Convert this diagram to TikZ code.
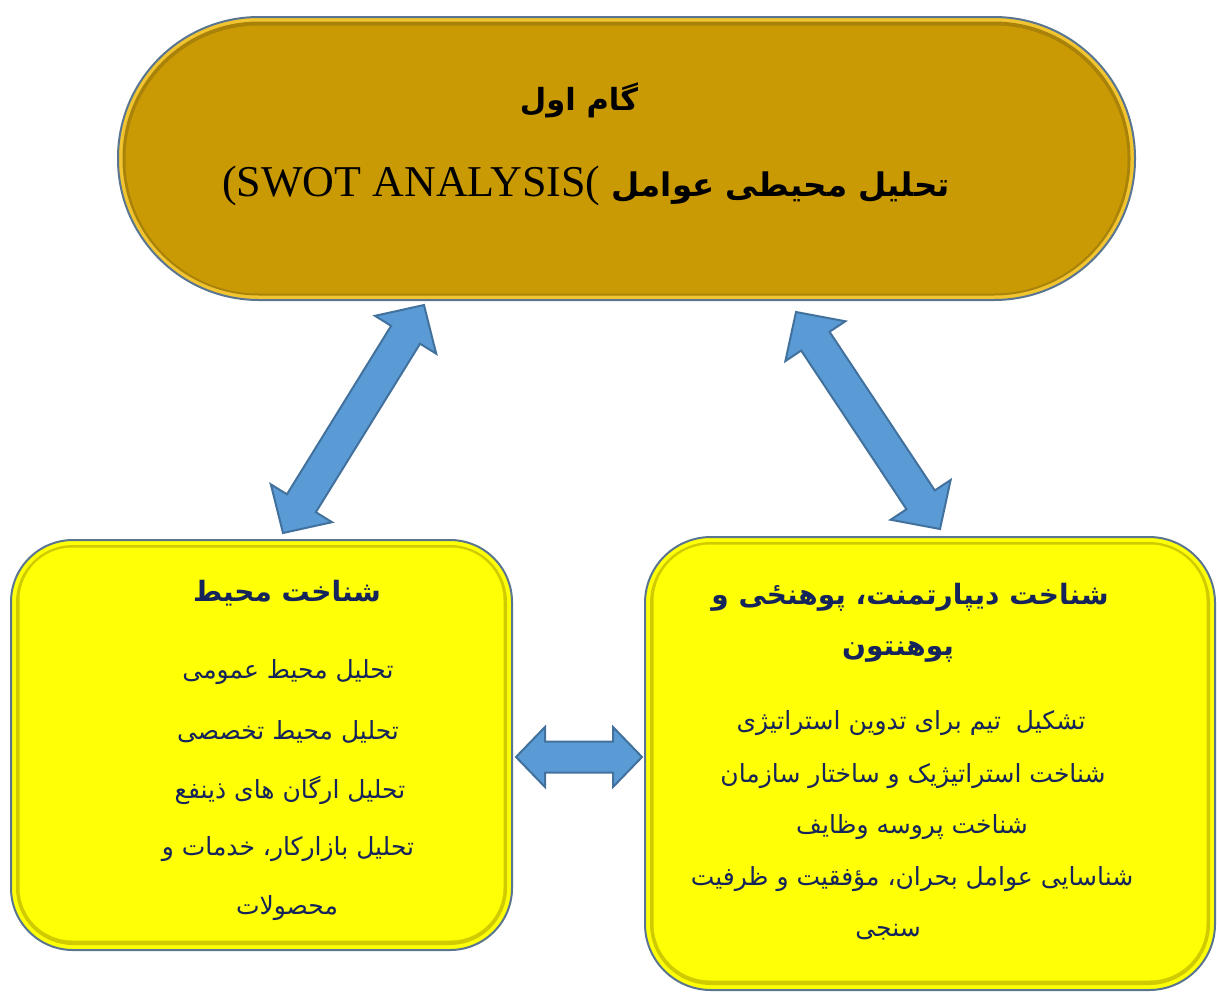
\documentclass[tikz,border=0pt]{standalone}
\usepackage{fontspec}
\usetikzlibrary{calc}
\TeXXeTstate=1
\newfontfamily\arabicfont[Script=Arabic]{DejaVu Sans}
\newfontfamily\latinserif{Liberation Serif}
\definecolor{goldfill}{HTML}{CA9A04}
\definecolor{golddark}{HTML}{A9820A}
\definecolor{goldlight}{HTML}{F2C530}
\definecolor{edgeblue}{HTML}{5A7590}
\definecolor{yelfill}{HTML}{FFFF05}
\definecolor{yeldark}{HTML}{CFCB00}
\definecolor{navy}{HTML}{15245A}
\definecolor{arrowfill}{HTML}{5B9BD5}
\definecolor{arrowline}{HTML}{41719C}
\tikzset{
  barrow/.style={fill=arrowfill,draw=arrowline,line width=2pt,line join=miter},
  outerbox/.style={draw=edgeblue,line width=2pt,inner sep=0pt},
  ringbox/.style={inner sep=0pt,fill=none},
  toptext/.style={text=black,inner sep=0pt},
  headtext/.style={text=navy,inner sep=0pt,font=\arabicfont\bfseries\fontsize{28}{32}\selectfont},
  bodytext/.style={text=navy,inner sep=0pt,font=\arabicfont\fontsize{25}{30}\selectfont},
}
\newcommand\blockarrow[5]{%
  \coordinate (#1h) at ($(#1)!#3!(#2)$);
  \coordinate (#2h) at ($(#2)!#3!(#1)$);
  \draw[barrow] (#1) -- ($(#1h)!#4!90:(#2)$) -- ($(#1h)!#5!90:(#2)$)
    -- ($(#2h)!#5!-90:(#1)$) -- ($(#2h)!#4!-90:(#1)$) -- (#2)
    -- ($(#2h)!#4!90:(#1)$) -- ($(#2h)!#5!90:(#1)$)
    -- ($(#1h)!#5!-90:(#2)$) -- ($(#1h)!#4!-90:(#2)$) -- cycle;}
\begin{document}
\begin{tikzpicture}[x=1pt,y=-1pt]
\useasboundingbox (0,0) rectangle (1217,994);
% top stadium
\node[outerbox,fill=goldlight,minimum width=1017pt,minimum height=283pt,rounded corners=141pt] (top) at (626.5,158.5) {};
\node[ringbox,fill=golddark,minimum width=1008pt,minimum height=274pt,rounded corners=136.5pt] (topring) at (626.5,158.5) {};
\node[ringbox,fill=goldfill,minimum width=1002pt,minimum height=268pt,rounded corners=133.5pt] (topfill) at (626.5,159.5) {};
% left box
\node[outerbox,fill=yelfill,minimum width=501pt,minimum height=410pt,rounded corners=62pt] (left) at (261.5,745) {};
\node[ringbox,fill=yeldark,minimum width=491pt,minimum height=400pt,rounded corners=57pt] (leftring) at (261.5,745) {};
\node[ringbox,fill=yelfill,minimum width=484pt,minimum height=393pt,rounded corners=53pt] (leftfill) at (261.5,744) {};
% right box
\node[outerbox,fill=yelfill,minimum width=570pt,minimum height=453pt,rounded corners=66pt] (right) at (930,763.5) {};
\node[ringbox,fill=yeldark,minimum width=560pt,minimum height=443pt,rounded corners=61pt] (rightring) at (930,763.5) {};
\node[ringbox,fill=yelfill,minimum width=553pt,minimum height=436pt,rounded corners=57pt] (rightfill) at (930,762.5) {};
% top texts
\node[toptext,font=\arabicfont\bfseries\fontsize{30.5}{36}\selectfont] (t1) at (579,100) {\beginR گام اول\endR};
\node[toptext,font=\arabicfont\bfseries\fontsize{32.5}{38}\selectfont] (t2) at (586,186)
  {\beginR تحلیل محیطی عوامل \beginL{\latinserif\mdseries\fontsize{44}{48}\selectfont(SWOT ANALYSIS(}\endL\endR};
% left texts
\node[headtext] (l0) at (287,593) {\beginR شناخت محیط\endR};
\node[bodytext] (l1) at (288,672) {\beginR تحلیل محیط عمومی\endR};
\node[bodytext] (l2) at (288,732) {\beginR تحلیل محیط تخصصی\endR};
\node[bodytext] (l3) at (290,790) {\beginR تحلیل ارگان های ذینفع\endR};
\node[bodytext] (l4) at (288,849) {\beginR تحلیل بازارکار، خدمات و\endR};
\node[bodytext] (l5) at (287,908) {\beginR محصولات\endR};
% right texts
\node[headtext] (r0) at (910,597) {\beginR شناخت دیپارتمنت، پوهنځی و\endR};
\node[headtext] (r1) at (898,652) {\beginR پوهنتون\endR};
\node[bodytext] (r2) at (911,723) {\beginR تشکیل\hspace{0.6em}تیم برای تدوین استراتیژی\endR};
\node[bodytext] (r3) at (913,776) {\beginR شناخت استراتیژیک و ساختار سازمان\endR};
\node[bodytext] (r4) at (912,827) {\beginR شناخت پروسه وظایف\endR};
\node[bodytext] (r5) at (912,879) {\beginR شناسایی عوامل بحران، مؤفقیت و ظرفیت\endR};
\node[bodytext] (r6) at (888,932) {\beginR سنجی\endR};
% arrows
\coordinate (a1) at (424,305);
\coordinate (b1) at (283,533);
\blockarrow{a1}{b1}{35pt}{36pt}{17pt}
\coordinate (a2) at (796,312);
\coordinate (b2) at (940,529);
\blockarrow{a2}{b2}{35pt}{36pt}{17pt}
\coordinate (a3) at (516,757);
\coordinate (b3) at (642,757);
\blockarrow{a3}{b3}{29pt}{30pt}{15.5pt}
\end{tikzpicture}
\end{document}
